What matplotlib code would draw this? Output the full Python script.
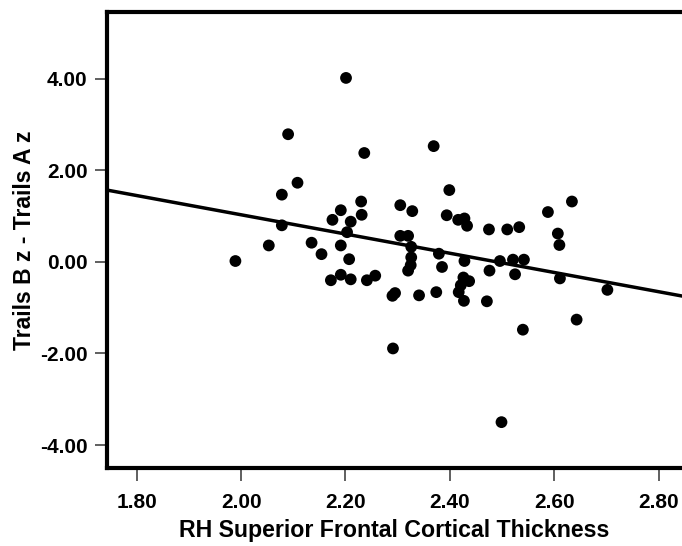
import matplotlib
matplotlib.use("Agg")
import matplotlib.pyplot as plt
import numpy as np

# cortical thickness (x) and Trails B z - Trails A z (y)
thickness = [1.989, 2.053, 2.078, 2.078, 2.090, 2.108, 2.135, 2.154, 2.172, 2.175,
             2.191, 2.191, 2.191, 2.201, 2.203, 2.210, 2.207, 2.210, 2.230, 2.231,
             2.236, 2.241, 2.257, 2.290, 2.295, 2.291, 2.305, 2.305, 2.320, 2.328,
             2.326, 2.326, 2.325, 2.320, 2.341, 2.369, 2.374, 2.379, 2.385, 2.399,
             2.394, 2.416, 2.428, 2.433, 2.428, 2.426, 2.437, 2.421, 2.417, 2.427,
             2.475, 2.476, 2.471, 2.496, 2.499, 2.510, 2.521, 2.525, 2.533, 2.542,
             2.540, 2.588, 2.607, 2.610, 2.611, 2.634, 2.643, 2.702]
trails_diff = [0.02, 0.36, 1.47, 0.80, 2.79, 1.73, 0.42, 0.17, -0.40, 0.92,
               1.13, 0.36, -0.28, 4.02, 0.65, 0.88, 0.06, -0.38, 1.32, 1.03,
               2.38, -0.40, -0.30, -0.74, -0.68, -1.89, 1.24, 0.57, 0.57, 1.11,
               0.33, 0.10, -0.07, -0.19, -0.73, 2.53, -0.66, 0.18, -0.11, 1.57,
               1.02, 0.92, 0.95, 0.79, 0.02, -0.34, -0.42, -0.51, -0.66, -0.85,
               0.71, -0.19, -0.86, 0.02, -3.50, 0.71, 0.05, -0.27, 0.76, 0.05,
               -1.48, 1.09, 0.62, 0.37, -0.36, 1.32, -1.26, -0.61]

# fit line
fit_slope = -2.10
fit_intercept = 5.23

xticks = [1.80, 2.00, 2.20, 2.40, 2.60, 2.80]
yticks = [-4.00, -2.00, 0.00, 2.00, 4.00]

plt.rcParams['font.family'] = ['Liberation Sans', 'DejaVu Sans']

fig = plt.figure(figsize=(6.82, 5.46), dpi=100)
ax = fig.add_axes([0.157, 0.143, 0.843, 0.835])

x = np.array(thickness)
y = np.array(trails_diff)
ax.scatter(x, y, s=72, color='black', edgecolors='none', zorder=3)

xlim = (1.743, 2.845)
xs = np.array(xlim)
ax.plot(xs, fit_slope * xs + fit_intercept, color='black', lw=2.5, zorder=2)

ax.set_xlim(*xlim)
ax.set_ylim(-4.50, 5.46)
ax.set_xticks(xticks)
ax.set_xticklabels(['%.2f' % v for v in xticks])
ax.set_yticks(yticks)
ax.set_yticklabels(['%.2f' % v for v in yticks])

for side in ['left', 'top', 'bottom']:
    ax.spines[side].set_linewidth(3)
ax.spines['right'].set_visible(False)

ax.tick_params(direction='out', length=9, width=1.2, color='#444444',
               labelsize=15, pad=5)
ax.tick_params(axis='x', pad=9)
for lab in ax.get_xticklabels() + ax.get_yticklabels():
    lab.set_fontweight('bold')

ax.set_xlabel('RH Superior Frontal Cortical Thickness', fontsize=16.7,
              fontweight='bold', labelpad=5)
ax.set_ylabel('Trails B z - Trails A z', fontsize=16.5, fontweight='bold',
              labelpad=3)

fig.savefig('out.png', dpi=100)
